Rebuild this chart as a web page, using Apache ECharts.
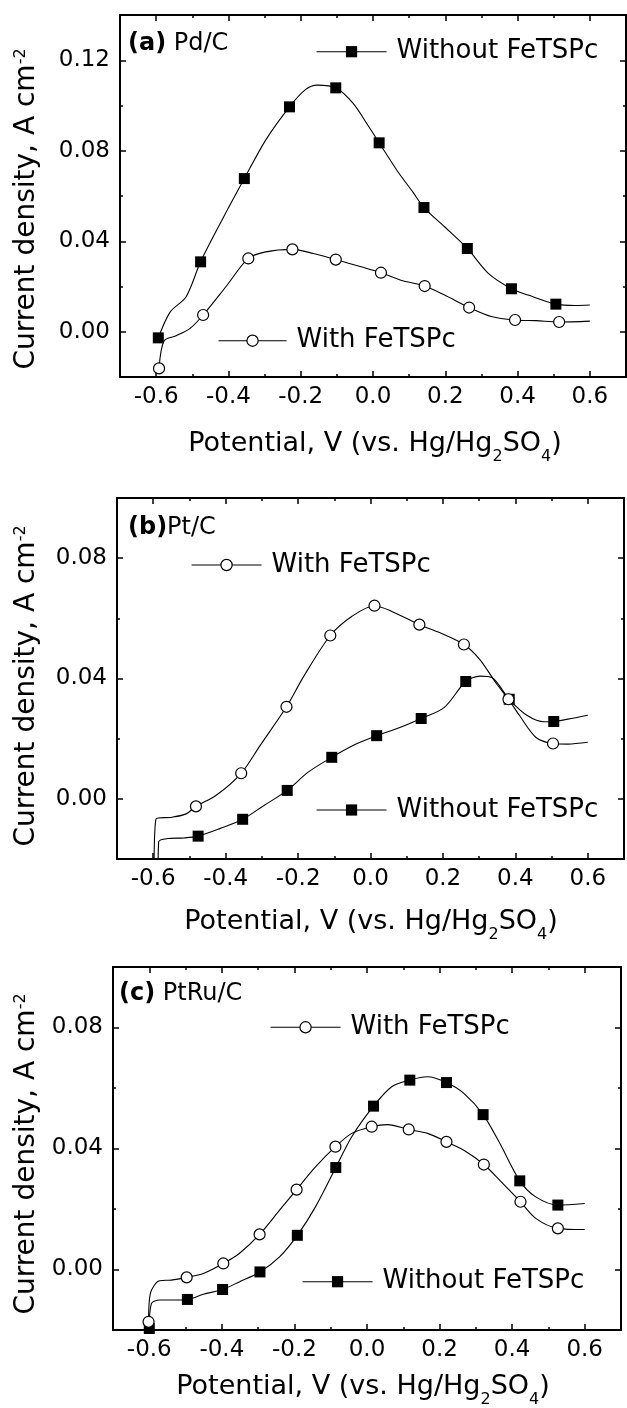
<!DOCTYPE html>
<html><head><meta charset="utf-8">
<script src="https://cdn.jsdelivr.net/npm/echarts@6/dist/echarts.min.js"></script>
<style>html,body{margin:0;padding:0;background:#fff}#c{width:627px;height:1408px}</style>
</head><body><div id="c"></div>
<script>
// ---------- tick values ----------
const xTickLabels = [-0.6, -0.4, -0.2, 0.0, 0.2, 0.4, 0.6];
const xMinorTicks = [-0.5, -0.3, -0.1, 0.1, 0.3, 0.5];
const yTickLabelsA = [0.00, 0.04, 0.08, 0.12];
const yMinorTicksA = [0.02, 0.06, 0.10];
const yTickLabelsBC = [0.00, 0.04, 0.08];
const yMinorTicksBC = [0.02, 0.06];

const seriesNames = ['Without FeTSPc', 'With FeTSPc'];
const panelLabels = [['(a)', ' Pd/C'], ['(b)', 'Pt/C'], ['(c)', ' PtRu/C']];

// ---------- panel (a) Pd/C ----------
const aWithoutLine = [[-0.561,0.0088],[-0.517,0.0155],[-0.418,0.0493],[-0.297,0.0847],[-0.187,0.1070],[-0.154,0.1090],[-0.055,0.1009],[-0.011,0.0905],[0.066,0.0714],[0.110,0.0618],[0.198,0.0464],[0.319,0.0258],[0.429,0.0162],[0.560,0.0116],[0.600,0.0118]];
const aWithoutMarks = [[-0.594,-0.0027],[-0.477,0.0309],[-0.356,0.0677],[-0.231,0.0994],[-0.103,0.1078],[0.017,0.0835],[0.141,0.0549],[0.261,0.0368],[0.383,0.0190],[0.506,0.0122]];
const aWithLine = [[-0.578,-0.0040],[-0.545,-0.0018],[-0.506,0.0015],[-0.407,0.0199],[-0.297,0.0353],[-0.165,0.0346],[-0.033,0.0287],[0.077,0.0228],[0.198,0.0162],[0.330,0.0066],[0.451,0.0049],[0.600,0.0047]];
const aWithMarks = [[-0.592,-0.0162],[-0.470,0.0074],[-0.345,0.0324],[-0.223,0.0364],[-0.103,0.0319],[0.022,0.0261],[0.143,0.0202],[0.266,0.0107],[0.393,0.0052],[0.515,0.0043]];

// ---------- panel (b) Pt/C ----------
const bWithoutLine = [[-0.587,-0.0300],[-0.585,-0.0143],[-0.559,-0.0132],[-0.515,-0.0130],[-0.416,-0.0099],[-0.294,-0.0022],[-0.173,0.0088],[-0.040,0.0182],[0.081,0.0237],[0.203,0.0303],[0.302,0.0408],[0.335,0.0403],[0.434,0.0276],[0.480,0.0256],[0.545,0.0265],[0.600,0.0278]];
const bWithoutMarks = [[-0.476,-0.0124],[-0.353,-0.0068],[-0.230,0.0028],[-0.107,0.0138],[0.017,0.0210],[0.140,0.0267],[0.263,0.0390],[0.383,0.0331],[0.506,0.0257]];
const bWithLine = [[-0.598,-0.0300],[-0.592,-0.0066],[-0.548,-0.0061],[-0.509,-0.0050],[-0.427,0.0011],[-0.305,0.0177],[-0.184,0.0408],[-0.051,0.0607],[0.059,0.0623],[0.192,0.0552],[0.302,0.0463],[0.346,0.0386],[0.412,0.0276],[0.457,0.0204],[0.545,0.0182],[0.600,0.0188]];
const bWithMarks = [[-0.482,-0.0025],[-0.357,0.0085],[-0.232,0.0306],[-0.111,0.0543],[0.011,0.0642],[0.135,0.0579],[0.258,0.0513],[0.381,0.0331],[0.504,0.0184]];

// ---------- panel (c) PtRu/C ----------
const cWithoutLine = [[-0.594,-0.0112],[-0.572,-0.0101],[-0.539,-0.0101],[-0.451,-0.0082],[-0.352,-0.0041],[-0.241,0.0042],[-0.142,0.0207],[-0.042,0.0439],[0.068,0.0604],[0.167,0.0637],[0.267,0.0582],[0.366,0.0417],[0.465,0.0240],[0.600,0.0218]];
const cWithoutMarks = [[-0.600,-0.0195],[-0.495,-0.0099],[-0.398,-0.0066],[-0.295,-0.0008],[-0.192,0.0113],[-0.086,0.0337],[0.018,0.0540],[0.118,0.0626],[0.219,0.0618],[0.320,0.0512],[0.421,0.0293],[0.526,0.0213]];
const cWithLine = [[-0.597,-0.0079],[-0.572,-0.0037],[-0.539,-0.0035],[-0.451,-0.0013],[-0.352,0.0053],[-0.241,0.0196],[-0.142,0.0339],[-0.042,0.0450],[0.057,0.0479],[0.167,0.0450],[0.267,0.0394],[0.366,0.0295],[0.465,0.0169],[0.600,0.0132]];
const cWithMarks = [[-0.602,-0.0173],[-0.497,-0.0026],[-0.396,0.0020],[-0.296,0.0116],[-0.194,0.0264],[-0.087,0.0406],[0.013,0.0472],[0.115,0.0463],[0.219,0.0422],[0.322,0.0347],[0.423,0.0224],[0.526,0.0136]];

// ---------- layout (pixels) ----------
const FONT = 'DejaVu Sans';
const grids = [
  {left:120, top:15,  width:506, height:362, ymax:0.14, yLab:yTickLabelsA,  yMin:yMinorTicksA},
  {left:117, top:498, width:507, height:361, ymax:0.10, yLab:yTickLabelsBC, yMin:yMinorTicksBC},
  {left:113, top:967, width:508, height:363, ymax:0.10, yLab:yTickLabelsBC, yMin:yMinorTicksBC}
];
const curves = [
  [[aWithoutLine, aWithoutMarks], [aWithLine, aWithMarks]],
  [[bWithoutLine, bWithoutMarks], [bWithLine, bWithMarks]],
  [[cWithoutLine, cWithoutMarks], [cWithLine, cWithMarks]]
];
const legendPos = [
  [{left:316, cy:51.7, w:70}, {left:218, cy:340.7, w:68}],
  [{left:316, cy:810, w:70},  {left:191, cy:565, w:70}],
  [{left:302, cy:1281.7, w:70}, {left:270, cy:1027.3, w:70}]
];
const xTitleTop = [430, 908, 1373];
const xTitleCx = [375, 371, 363];
const yTitleCy = [209, 686, 1154];
const labelPos = [{x:128, y:44}, {x:128, y:528}, {x:119, y:994}];

function mergeData(line, marks) {
  const pts = line.map(p => ({value: p, symbol: 'none'}))
    .concat(marks.map(p => ({value: p})));
  pts.sort((a, b) => a.value[0] - b.value[0]);
  return pts;
}

const xAxis = [], yAxis = [], series = [], legend = [], graphic = [];
const tickStyle = {color:'#000', width:1.5};

grids.forEach((g, p) => {
  const xBase = {gridIndex:p, type:'value', min:-0.7, max:0.7, splitLine:{show:false},
                 axisLine:{show:false, onZero:false}};
  xAxis.push(Object.assign({}, xBase, {position:'bottom',
    axisTick:{inside:true, length:6, lineStyle:tickStyle, customValues:xTickLabels},
    axisLabel:{customValues:xTickLabels, margin:9, fontSize:23, fontFamily:FONT, color:'#000',
               formatter: v => v.toFixed(1)}}));
  xAxis.push(Object.assign({}, xBase, {position:'bottom',
    axisTick:{inside:true, length:3, lineStyle:tickStyle, customValues:xMinorTicks}, axisLabel:{show:false}}));
  xAxis.push(Object.assign({}, xBase, {position:'top',
    axisTick:{inside:true, length:6, lineStyle:tickStyle, customValues:xTickLabels}, axisLabel:{show:false}}));
  xAxis.push(Object.assign({}, xBase, {position:'top',
    axisTick:{inside:true, length:3, lineStyle:tickStyle, customValues:xMinorTicks}, axisLabel:{show:false}}));

  const yBase = {gridIndex:p, type:'value', min:-0.02, max:g.ymax, splitLine:{show:false},
                 axisLine:{show:false, onZero:false}};
  yAxis.push(Object.assign({}, yBase, {position:'left',
    axisTick:{inside:true, length:6, lineStyle:tickStyle, customValues:g.yLab},
    axisLabel:{customValues:g.yLab, margin:10, fontSize:23, fontFamily:FONT, color:'#000',
               formatter: v => v.toFixed(2)}}));
  yAxis.push(Object.assign({}, yBase, {position:'left',
    axisTick:{inside:true, length:3, lineStyle:tickStyle, customValues:g.yMin}, axisLabel:{show:false}}));
  yAxis.push(Object.assign({}, yBase, {position:'right',
    axisTick:{inside:true, length:6, lineStyle:tickStyle, customValues:g.yLab}, axisLabel:{show:false}}));
  yAxis.push(Object.assign({}, yBase, {position:'right',
    axisTick:{inside:true, length:3, lineStyle:tickStyle, customValues:g.yMin}, axisLabel:{show:false}}));

  curves[p].forEach((c, k) => {
    const isWith = k === 1;
    series.push({
      type:'line', name:seriesNames[k], xAxisIndex:4*p, yAxisIndex:4*p,
      data: mergeData(c[0], c[1]),
      symbol: isWith ? 'circle' : 'rect', symbolSize: 11,
      smooth: 0.3,
      lineStyle:{color:'#000', width:1.1},
      itemStyle: isWith ? {color:'#fff', borderColor:'#000', borderWidth:1.2}
                        : {color:'#000', borderColor:'#000', borderWidth:0},
      emphasis:{disabled:true}, z: isWith ? 3 : 2
    });
    const lp = legendPos[p][k];
    legend.push({
      data:[seriesNames[k]], left:lp.left, top:lp.cy - 13, padding:0,
      itemWidth:lp.w, itemHeight:14, selectedMode:false,
      itemStyle: isWith ? {color:'#fff', borderColor:'#000', borderWidth:1.2}
                        : {color:'#000', borderColor:'#000', borderWidth:0},
      lineStyle:{color:'#000', width:1.1},
      textStyle:{fontSize:26, fontFamily:FONT, color:'#000', padding:[0,0,0,5]}
    });
  });

  // x-axis title (subscripts dropped below the baseline)
  graphic.push({type:'text', x:xTitleCx[p], y:xTitleTop[p], silent:true,
    style:{text:'{m|Potential, V (vs. Hg/Hg}{s|2}{m|SO}{s|4}{m|)}', align:'center', verticalAlign:'top',
      rich:{m:{fontSize:27, fontFamily:FONT, lineHeight:30, verticalAlign:'top', fill:'#000'},
            s:{fontSize:16, fontFamily:FONT, lineHeight:35, verticalAlign:'bottom', fill:'#000'}}}});
  // y-axis title (superscript raised)
  graphic.push({type:'text', x:28.5, y:yTitleCy[p], rotation:Math.PI/2, silent:true,
    style:{text:'{m|Current density, A cm}{s|-2}', align:'center', verticalAlign:'middle',
      rich:{m:{fontSize:28, fontFamily:FONT, lineHeight:32, verticalAlign:'top', fill:'#000'},
            s:{fontSize:16, fontFamily:FONT, lineHeight:17, verticalAlign:'top', fill:'#000'}}}});
  // panel label
  graphic.push({type:'text', x:labelPos[p].x, y:labelPos[p].y, silent:true,
    style:{text:'{b|' + panelLabels[p][0] + '}{r|' + panelLabels[p][1] + '}', align:'left', verticalAlign:'middle',
      rich:{b:{fontSize:24, fontFamily:FONT, fontWeight:'bold', fill:'#000'},
            r:{fontSize:24, fontFamily:FONT, fill:'#000'}}}});
});

const chart = echarts.init(document.getElementById('c'), null, {renderer:'canvas'});
chart.setOption({
  animation:false,
  backgroundColor:'#fff',
  textStyle:{fontFamily:FONT, color:'#000'},
  grid: grids.map(g => ({left:g.left, top:g.top, width:g.width, height:g.height,
                         show:true, borderColor:'#000', borderWidth:2, backgroundColor:'transparent'})),
  xAxis, yAxis, series, legend, graphic
});
</script></body></html>
